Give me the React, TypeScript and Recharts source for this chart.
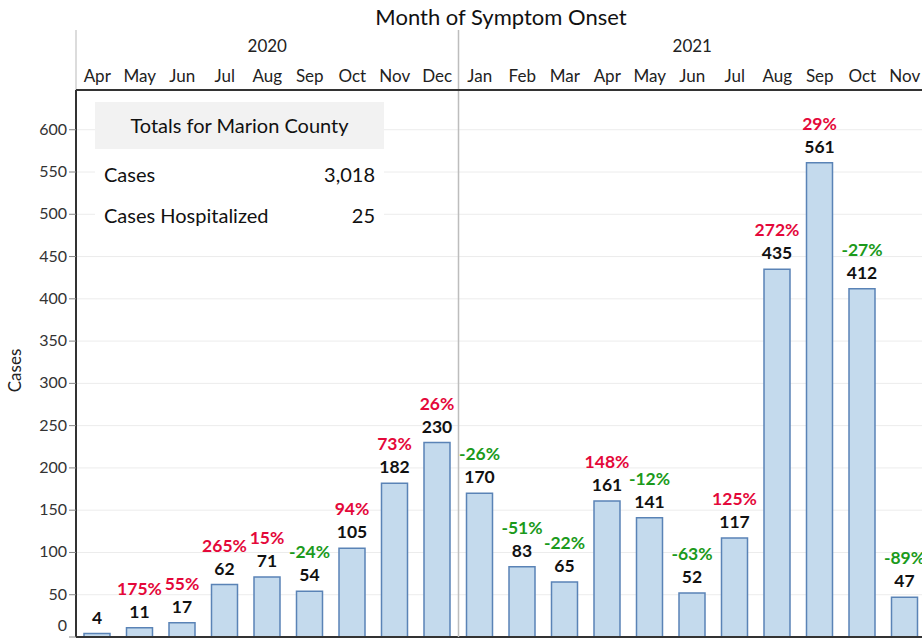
import React from 'react';
import { BarChart, Bar, XAxis, YAxis, CartesianGrid, ReferenceLine, LabelList } from 'recharts';

// values
const months = ['Apr', 'May', 'Jun', 'Jul', 'Aug', 'Sep', 'Oct', 'Nov', 'Dec', 'Jan', 'Feb', 'Mar', 'Apr', 'May', 'Jun', 'Jul', 'Aug', 'Sep', 'Oct', 'Nov'];
const years = ['2020', '2020', '2020', '2020', '2020', '2020', '2020', '2020', '2020', '2021', '2021', '2021', '2021', '2021', '2021', '2021', '2021', '2021', '2021', '2021'];
const cases = [4, 11, 17, 62, 71, 54, 105, 182, 230, 170, 83, 65, 161, 141, 52, 117, 435, 561, 412, 47];
const pctChange: (number | null)[] = [null, 175, 55, 265, 15, -24, 94, 73, 26, -26, -51, -22, 148, -12, -63, 125, 272, 29, -27, -89];
const yTicks = [0, 50, 100, 150, 200, 250, 300, 350, 400, 450, 500, 550, 600];
const totalsLabels = ['Cases', 'Cases Hospitalized'];
const totalsValues = ['3,018', '25'];

const FONT = 'Lato, "Open Sans", sans-serif';
const RED = '#e4083a';
const GREEN = '#1b9a1b';

const data = months.map((m, i) => ({ key: i, month: m, year: years[i], cases: cases[i] }));

// middle month of each year run gets the year label
const yearMid = (i: number) => {
  const y = years[i];
  const first = years.indexOf(y);
  const last = years.lastIndexOf(y);
  return i === Math.floor((first + last) / 2);
};
const yearStarts = data.filter((d, i) => i === 0 || years[i] !== years[i - 1]).map((d) => d.key);

const MonthTick = (props: any) => {
  const { x, y, payload } = props;
  return (
    <text x={x} y={y - 8} textAnchor="middle" fontSize={17} fill="#222" fontFamily={FONT}>
      {months[payload.value]}
    </text>
  );
};

const YearTick = (props: any) => {
  const { x, y, payload } = props;
  if (!yearMid(payload.value)) return <g />;
  return (
    <text x={x} y={y - 8} textAnchor="middle" fontSize={17} fill="#222" fontFamily={FONT}>
      {years[payload.value]}
    </text>
  );
};

const CasesTick = (props: any) => {
  const { x, y, payload } = props;
  const dy = payload.value === 0 ? -6 : 5;
  return (
    <text x={x} y={y + dy} textAnchor="end" fontSize={16} fill="#333" fontFamily={FONT}>
      {payload.value}
    </text>
  );
};

const BarLabel = (props: any) => {
  const vb = props.viewBox || {};
  const x = props.x ?? vb.x;
  const y = props.y ?? vb.y;
  const width = props.width ?? vb.width;
  const i = props.index;
  const cx = x + width / 2;
  const p = pctChange[i];
  return (
    <g fontFamily={FONT} fontWeight="bold" fontSize={17.5} textAnchor="middle">
      <text x={cx} y={y - 10} fill="#111">{cases[i]}</text>
      {p !== null && (
        <text x={cx} y={y - 33} fill={p >= 0 ? RED : GREEN}>{p}%</text>
      )}
    </g>
  );
};

const YLabel = (props: any) => {
  const vb = props.viewBox;
  const cy = vb.y + vb.height / 2 + 7;
  return (
    <text x={21} y={cy} transform={`rotate(-90 21 ${cy})`} textAnchor="middle" fontSize={17} fill="#222" fontFamily={FONT}>
      Cases
    </text>
  );
};

export default function App() {
  return (
    <div style={{ position: 'absolute', left: 0, top: 0, width: 922, height: 639, overflow: 'hidden', background: '#fff', fontFamily: FONT }}>
      <BarChart width={926} height={639} data={data} margin={{ top: 30, right: 0, bottom: 2, left: 0 }} barCategoryGap={0}>
        <CartesianGrid vertical={false} stroke="#ececec" />
        <XAxis xAxisId={0} dataKey="key" orientation="top" height={30} tickLine={false} tickSize={0} tickMargin={0}
          axisLine={{ stroke: '#333', strokeWidth: 2 }} tick={<MonthTick />} interval={0} />
        <XAxis xAxisId="year" dataKey="key" orientation="top" height={30} tickLine={false} tickSize={0} tickMargin={0}
          axisLine={false} tick={<YearTick />} interval={0} />
        <YAxis width={76} domain={[0, 647]} ticks={yTicks} allowDataOverflow interval={0} tickSize={7} tickMargin={2}
          tick={<CasesTick />} tickLine={{ stroke: '#888' }}
          axisLine={{ stroke: '#333', strokeWidth: 2 }} label={<YLabel />} />
        <ReferenceLine y={0} stroke="#333" strokeWidth={2} />
        {yearStarts.map((k) => (
          <ReferenceLine key={k} position="start" ifOverflow="visible"
            segment={[{ x: k, y: k === 0 ? 647 : 0 }, { x: k, y: 718 }]}
            stroke={k === 0 ? '#d0d0d0' : '#bdbdbd'} strokeWidth={1.5} />
        ))}
        <Bar dataKey="cases" barSize={26} fill="#c4daed" stroke="#5a83b6" strokeWidth={1.5} isAnimationActive={false}>
          <LabelList dataKey="cases" content={<BarLabel />} />
        </Bar>
      </BarChart>
      <div style={{ position: 'absolute', left: 76, top: 3, width: 850, textAlign: 'center', fontSize: 22, color: '#111' }}>
        Month of Symptom Onset
      </div>
      <div style={{ position: 'absolute', left: 95, top: 102, width: 289, background: '#fff', color: '#111' }}>
        <div style={{ background: '#f2f2f2', height: 47, lineHeight: '47px', textAlign: 'center', fontSize: 20 }}>
          Totals for Marion County
        </div>
        {totalsLabels.map((l, i) => (
          <div key={l} style={{ display: 'flex', justifyContent: 'space-between', height: 41, lineHeight: '41px', padding: '0 9px', fontSize: 20, marginTop: i === 0 ? 5 : 0 }}>
            <span>{l}</span>
            <span>{totalsValues[i]}</span>
          </div>
        ))}
      </div>
    </div>
  );
}
